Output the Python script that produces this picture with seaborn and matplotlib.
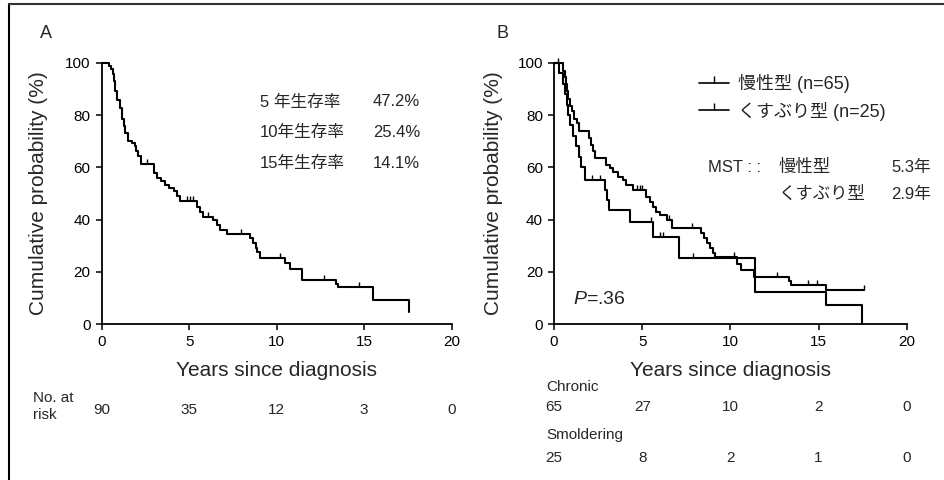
import numpy as np
import pandas as pd
import matplotlib
matplotlib.use("Agg")
import matplotlib.pyplot as plt
from matplotlib.lines import Line2D
import seaborn as sns

# --- data ---------------------------------------------------------------
# Panel A: all patients (step times in years, survival % after the step)
a_time = [0, 0.42, 0.55, 0.65, 0.72, 0.78, 0.89, 1.03, 1.16, 1.27, 1.35, 1.5,
          1.72, 1.88, 1.98, 2.07, 2.22, 3.0, 3.18, 3.41, 3.6, 3.85, 4.13, 4.3,
          4.48, 5.43, 5.62, 5.81, 6.38, 6.57, 6.76, 7.14, 8.45, 8.62, 8.8, 8.9,
          9.05, 10.45, 10.75, 11.43, 13.38, 13.52, 15.49, 17.58]
a_surv = [100, 98.7, 97.4, 95.5, 93.0, 89.0, 85.9, 82.7, 78.3, 75.7, 73.2, 70.0,
          69.4, 68.1, 66.2, 64.3, 61.1, 57.9, 56.0, 54.7, 53.2, 52.2, 50.9, 49.0,
          47.2, 45.0, 43.0, 41.1, 39.8, 37.9, 36.0, 34.7, 32.8, 30.9, 29.0, 27.7,
          25.4, 23.3, 21.0, 17.0, 15.5, 14.1, 9.4, 4.7]
a_censor = [2.6, 4.85, 5.05, 5.2, 6.05, 7.95, 10.2, 12.7, 14.7]

# Panel B: chronic (n=65)
c_time = [0, 0.53, 0.63, 0.7, 0.75, 0.82, 0.92, 1.0, 1.15, 1.28, 1.42, 2.0,
          2.1, 2.2, 2.3, 2.95, 3.15, 3.35, 3.62, 3.9, 4.1, 4.45, 5.22, 5.42,
          5.6, 5.8, 6.0, 6.4, 6.69, 8.35, 8.52, 8.65, 8.82, 9.0, 9.15, 10.4,
          10.6, 11.35, 13.3, 13.45, 15.4, 17.55]
c_surv = [100, 97.0, 94.7, 92.0, 89.0, 86.0, 83.5, 81.5, 78.5, 76.9, 73.9, 71.3,
          68.7, 66.2, 63.4, 60.9, 59.6, 58.3, 56.4, 55.1, 53.2, 51.3, 48.8, 46.8,
          44.9, 43.0, 41.8, 39.9, 36.9, 34.8, 32.9, 31.0, 29.0, 27.1, 25.6, 23.1,
          20.7, 18.2, 16.5, 15.0, 13.1, 13.1]
c_censor = [0.25, 4.7, 4.85, 5.0, 6.5, 7.85, 10.2, 12.65, 14.4, 14.9, 17.55]

# Panel B: smoldering (n=25)
s_time = [0, 0.3, 0.5, 0.62, 0.72, 0.82, 0.91, 1.1, 1.25, 1.4, 1.55, 1.75,
          2.88, 3.0, 3.09, 4.32, 5.64, 7.06, 11.4, 15.4, 17.48]
s_surv = [100, 96, 92, 88, 84, 80, 76, 72, 68, 64, 60, 55.1,
          51.5, 47.6, 43.7, 39.2, 33.5, 25.2, 12.5, 7.2, 0]
s_censor = [2.15, 2.6, 5.5, 6.0, 6.2, 7.9]

year_ticks = [0, 5, 10, 15, 20]
risk_all = [90, 35, 12, 3, 0]
risk_chronic = [65, 27, 10, 2, 0]
risk_smold = [25, 8, 2, 1, 0]

rates_label = ["5 年生存率", "10年生存率", "15年生存率"]
rates_value = ["47.2%", "25.4%", "14.1%"]


def step_at(times, surv, t):
    i = np.searchsorted(times, t, side="right") - 1
    return np.asarray(surv)[i]


def curve_frame(times, surv, group):
    return pd.DataFrame({"time": times, "surv": surv, "group": group})


def censor_frame(times, surv, cens, group):
    return pd.DataFrame({"time": cens,
                         "surv": [step_at(times, surv, t) for t in cens],
                         "group": group})


sns.set_style("ticks")
plt.rcParams["font.family"] = ["Liberation Sans", "Noto Sans CJK JP", "DejaVu Sans"]
plt.rcParams["mathtext.fontset"] = "custom"
plt.rcParams["mathtext.it"] = "Liberation Sans:italic"
plt.rcParams["mathtext.rm"] = "Liberation Sans"

fig = plt.figure(figsize=(9.44, 4.8), dpi=100)
axA = fig.add_axes([0.1077, 0.3244, 0.3708, 0.545])
axB = fig.add_axes([0.5869, 0.3244, 0.3736, 0.545])

# --- panel A ---
sns.lineplot(data=curve_frame(a_time, a_surv, "all"), x="time", y="surv",
             drawstyle="steps-post", estimator=None, color="black", lw=1.5,
             ax=axA, legend=False)
sns.scatterplot(data=censor_frame(a_time, a_surv, a_censor, "all"), x="time",
                y="surv", marker=2, s=14, linewidth=1, color="black",
                ax=axA, legend=False)

# --- panel B ---
dfB = pd.concat([curve_frame(c_time, c_surv, "chronic"),
                 curve_frame(s_time, s_surv, "smoldering")])
cenB = pd.concat([censor_frame(c_time, c_surv, c_censor, "chronic"),
                  censor_frame(s_time, s_surv, s_censor, "smoldering")])
sns.lineplot(data=dfB, x="time", y="surv", hue="group", units="group",
             palette=["black", "black"], drawstyle="steps-post", estimator=None,
             lw=1.5, ax=axB, legend=False)
sns.scatterplot(data=cenB, x="time", y="surv", marker=2, s=14, linewidth=1,
                color="black", ax=axB, legend=False)

for ax in (axA, axB):
    ax.set_xlim(0, 20)
    ax.set_ylim(0, 100)
    ax.set_xticks(year_ticks)
    ax.set_yticks([0, 20, 40, 60, 80, 100])
    ax.tick_params(direction="out", length=4, width=1.1, labelsize=11, pad=4,
                   colors="black")
    sns.despine(ax=ax)
    for s in ("left", "bottom"):
        ax.spines[s].set_linewidth(1.3)
        ax.spines[s].set_color("black")
    for ln in ax.lines:
        ln.set_clip_on(False)
    for c in ax.collections:
        c.set_clip_on(False)
    ax.set_xlabel("Years since diagnosis", fontsize=15)
    ax.set_ylabel("Cumulative probability (%)", fontsize=15)
    ax.xaxis.set_label_coords(0.5, -0.14)

axA.yaxis.set_label_coords(-0.153, 0.5)
axB.yaxis.set_label_coords(-0.145, 0.5)

# survival rate notes (panel A)
for i, (lab, val) in enumerate(zip(rates_label, rates_value)):
    y = 85 - i * 11.7
    axA.text(9.05, y, lab, fontsize=12, va="center", ha="left")
    axA.text(18.2, y, val, fontsize=12, va="center", ha="right")

# legend (panel B)
handles = [Line2D([], [], color="black", lw=1.2, marker=2, markersize=5,
                  markeredgewidth=1) for _ in range(2)]
axB.legend(handles, ["慢性型 (n=65)", "くすぶり型 (n=25)"], loc="upper left",
           bbox_to_anchor=(0.41, 0.955), frameon=False, fontsize=13,
           handlelength=1.7, handletextpad=0.5, labelspacing=0.45,
           borderpad=0, borderaxespad=0)

axB.text(8.75, 60.1, "MST : :", fontsize=12, va="center", ha="left",
         clip_on=False)
axB.text(12.73, 60.1, "慢性型", fontsize=12.5, va="center", ha="left",
         clip_on=False)
axB.text(21.36, 60.1, "5.3年", fontsize=12, va="center", ha="right",
         clip_on=False)
axB.text(12.73, 49.8, "くすぶり型", fontsize=12.5, va="center", ha="left",
         clip_on=False)
axB.text(21.36, 49.8, "2.9年", fontsize=12, va="center", ha="right",
         clip_on=False)
axB.text(1.08, 9.3, "$P$=.36", fontsize=14, va="center", ha="left")

# numbers at risk
tA = axA.get_xaxis_transform()
axA.text(-3.93, -0.283, "No. at", transform=tA, fontsize=11, va="center")
axA.text(-3.93, -0.347, "risk", transform=tA, fontsize=11, va="center")
for x, n in zip(year_ticks, risk_all):
    axA.text(x, -0.329, str(n), transform=tA, fontsize=11, ha="center",
             va="center")

tB = axB.get_xaxis_transform()
axB.text(-0.45, -0.24, "Chronic", transform=tB, fontsize=11, va="center")
axB.text(-0.45, -0.423, "Smoldering", transform=tB, fontsize=11, va="center")
for x, n in zip(year_ticks, risk_chronic):
    axB.text(x, -0.317, str(n), transform=tB, fontsize=11, ha="center",
             va="center")
for x, n in zip(year_ticks, risk_smold):
    axB.text(x, -0.511, str(n), transform=tB, fontsize=11, ha="center",
             va="center")

# panel letters
fig.text(40 / 944, 1 - 33 / 480, "A", fontsize=13, va="center", ha="left")
fig.text(497 / 944, 1 - 33 / 480, "B", fontsize=13, va="center", ha="left")

# scanned page border (left and top)
fig.add_artist(Line2D([9 / 944, 9 / 944], [0, 1 - 4 / 480],
                      transform=fig.transFigure, color="black", lw=1.5))
fig.add_artist(Line2D([9 / 944, 1], [1 - 4 / 480, 1 - 4 / 480],
                      transform=fig.transFigure, color="#333333", lw=1.5))

fig.savefig("out.png", dpi=100)
